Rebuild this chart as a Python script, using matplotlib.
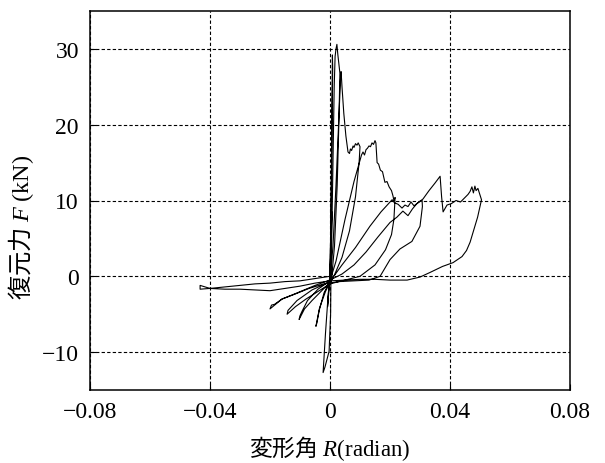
import numpy as np
import matplotlib
matplotlib.use("Agg")
import matplotlib.pyplot as plt

plt.rcParams['mathtext.fontset'] = 'custom'
plt.rcParams['mathtext.rm'] = 'Liberation Serif'
plt.rcParams['mathtext.it'] = 'Liberation Serif:italic'
plt.rcParams['axes.unicode_minus'] = True

# drift angle R (radian) / restoring force F (kN), cycle by cycle
r1 = [0, 0.0003, 0.0006, 0.0004, 0.0, -0.0005, -0.0008, -0.0004, 0.0]
f1 = [0, 4.0, 8.5, 3.0, -0.3, -2.5, -4.0, -1.5, 0.0]

r2 = [0.0003, 0.0005, 0.0007, 0.0008, 0.0009, 0.0007, 0.0004, 0.0, -0.0008,
      -0.0015, -0.0023, -0.0017, -0.0003, 0.0002, 0.0003]
f2 = [8.0, 16.0, 24.0, 29.2, 27.5, 20.0, 9.0, 0.5, -3.5,
      -7.5, -12.7, -12.0, -9.9, -5.0, -0.5]

r3 = [0.0007, 0.0011, 0.0014, 0.0017, 0.0020, 0.0023, 0.0026, 0.0030, 0.0033,
      0.0030, 0.0024, 0.0015, 0.0005, -0.0015, -0.0035, -0.0047, -0.0044,
      -0.0036, -0.002, 0.0]
f3 = [8.0, 18.0, 25.0, 29.0, 30.0, 30.6, 29.3, 27.8, 26.8,
      21.0, 12.0, 4.0, -0.4, -2.0, -4.2, -6.6, -6.2,
      -4.5, -2.2, -0.6]

r4 = [0.0010, 0.0020, 0.0030, 0.0035, 0.0037, 0.0040, 0.0046, 0.0053, 0.0060,
      0.0065, 0.0068, 0.0072, 0.0077, 0.0080, 0.0085, 0.0090, 0.0094, 0.0100,
      0.0097, 0.0085, 0.0065, 0.0040, 0.0015, 0.0, -0.003, -0.006, -0.0085,
      -0.0103, -0.0100, -0.0093, -0.0075, -0.004, 0.0]
f4 = [4.0, 12.0, 21.5, 26.0, 27.0, 25.0, 21.5, 18.5, 16.4,
      16.2, 16.8, 16.6, 17.2, 17.0, 17.5, 17.3, 17.6, 17.1,
      15.0, 10.5, 6.0, 2.5, 0.2, -0.8, -2.0, -3.2, -4.3,
      -5.7, -5.2, -4.6, -3.2, -1.7, -0.6]

r5 = [0.002, 0.005, 0.008, 0.0105, 0.011, 0.0115, 0.012, 0.0125, 0.013,
      0.0135, 0.014, 0.0145, 0.015, 0.0153, 0.0157, 0.0162, 0.0168, 0.0175,
      0.0183, 0.019, 0.0197, 0.0205, 0.021, 0.0213, 0.0217, 0.0213, 0.0205,
      0.0185, 0.015, 0.010, 0.005, 0.0, -0.004, -0.008, -0.0115, -0.0143,
      -0.0140, -0.0133, -0.0110, -0.006, 0.0]
f5 = [2.0, 7.5, 12.5, 16.0, 16.4, 16.0, 16.7, 16.9, 17.2,
      17.1, 17.6, 17.4, 17.9, 17.6, 15.0, 14.8, 14.0, 13.8,
      12.4, 12.5, 11.8, 11.3, 10.6, 10.0, 10.4, 7.5, 5.5,
      3.5, 1.5, 0.0, -0.5, -1.0, -2.0, -3.0, -4.0, -5.0,
      -4.5, -4.2, -3.2, -1.8, -0.7]

r6 = [0.004, 0.0085, 0.0133, 0.017, 0.0207, 0.0215, 0.0227, 0.0240, 0.0250,
      0.0260, 0.0270, 0.0280, 0.0290, 0.0300, 0.0307, 0.0308, 0.0300, 0.0273,
      0.0233, 0.020, 0.0167, 0.013, 0.008, 0.003, -0.002, -0.007, -0.012,
      -0.016, -0.020, -0.0195, -0.0185, -0.016, -0.011, -0.005, 0.0]
f6 = [1.5, 3.8, 6.6, 8.5, 10.1, 9.7, 9.5, 9.0, 9.4,
      9.2, 9.8, 9.3, 9.6, 9.9, 10.0, 9.2, 6.6, 4.6,
      3.6, 2.2, 0.0, -0.5, -0.6, -0.7, -1.0, -1.6, -2.4,
      -3.0, -4.3, -3.8, -3.7, -3.0, -2.2, -1.2, -0.5]

r7 = [0.004, 0.008, 0.012, 0.016, 0.020, 0.0223, 0.0243, 0.026, 0.0275,
      0.029, 0.031, 0.033, 0.035, 0.0367, 0.0372, 0.0377, 0.039, 0.0405,
      0.042, 0.0435, 0.045, 0.046, 0.0467, 0.0473, 0.0478, 0.0483, 0.0487,
      0.0493, 0.0500, 0.0505, 0.0500, 0.0492, 0.0483, 0.0475, 0.0467, 0.0455,
      0.044, 0.041, 0.0375, 0.0333, 0.030, 0.0257, 0.020, 0.015, 0.010,
      0.005, 0.0, -0.005, -0.010, -0.015, -0.020, -0.025, -0.030, -0.035,
      -0.040, -0.0433, -0.0433, -0.040, -0.035, -0.030, -0.025, -0.020,
      -0.015, -0.010, -0.005, 0.0]
f7 = [0.3, 1.5, 3.2, 5.2, 7.1, 7.8, 8.6, 8.0, 8.9,
      9.6, 10.2, 11.3, 12.3, 13.2, 10.5, 8.5, 9.4, 9.6,
      10.0, 9.8, 10.4, 10.8, 11.2, 11.8, 11.0, 11.9, 11.3,
      11.6, 10.7, 10.1, 9.2, 7.8, 6.6, 5.5, 4.5, 3.4,
      2.6, 1.8, 1.3, 0.5, -0.1, -0.5, -0.5, -0.4, -0.4,
      -0.5, -0.6, -0.9, -1.3, -1.6, -1.9, -1.8, -1.7, -1.7,
      -1.6, -1.7, -1.2, -1.6, -1.4, -1.2, -1.0, -0.9,
      -0.7, -0.6, -0.3, 0.0]

x_ticks = [-0.08, -0.04, 0, 0.04, 0.08]
x_labels = ['\u22120.08', '\u22120.04', '0', '0.04', '0.08']
y_ticks = [-10, 0, 10, 20, 30]
y_labels = ['\u221210', '0', '10', '20', '30']

R = np.concatenate([r1, r2, r3, r4, r5, r6, r7])
F = np.concatenate([f1, f2, f3, f4, f5, f6, f7])

fig = plt.figure(figsize=(6.05, 4.64), dpi=100)
ax = fig.add_axes([90 / 605, 1 - 391 / 464, 480 / 605, 379 / 464])

ax.plot(R, F, color='black', linewidth=0.8)

ax.set_xlim(-0.08, 0.08)
ax.set_ylim(-15, 35)
ax.set_xticks(x_ticks)
ax.set_xticklabels(x_labels, family='Liberation Serif', fontsize=17)
ax.set_yticks(y_ticks)
ax.set_yticklabels(y_labels, family='Liberation Serif', fontsize=17)
ax.tick_params(direction='in', length=4, width=0.8, pad=8)
ax.grid(True, color='black', linestyle=(0, (3, 2)), linewidth=0.8)

for s in ax.spines.values():
    s.set_linewidth(1.1)

ax.set_xlabel('変形角 $R$$\\mathrm{(radian)}$', family='Noto Sans CJK JP',
              fontsize=16.5, labelpad=8)
ax.set_ylabel('復元力 $F$ $\\mathrm{(kN)}$', family='Noto Sans CJK JP',
              fontsize=17.5)
ax.yaxis.set_label_coords(-0.112, 0.433)

fig.savefig('out.png', dpi=100)
